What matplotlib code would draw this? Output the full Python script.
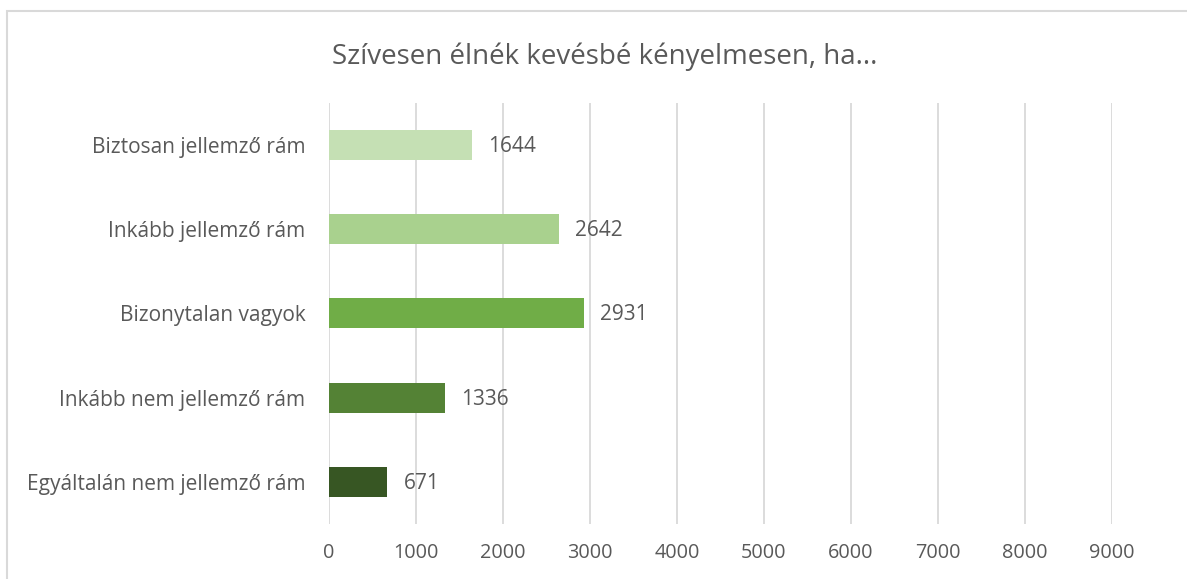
import matplotlib.pyplot as plt
from matplotlib.patches import Rectangle

categories = ['Egyáltalán nem jellemző rám', 'Inkább nem jellemző rám', 'Bizonytalan vagyok',
              'Inkább jellemző rám', 'Biztosan jellemző rám']
values = [671, 1336, 2931, 2642, 1644]
colors = ['#375623', '#548235', '#70AD47', '#A9D18E', '#C5E0B4']
ticks = [0, 1000, 2000, 3000, 4000, 5000, 6000, 7000, 8000, 9000]
title = 'Szívesen élnék kevésbé kényelmesen, ha...'

plt.rcParams['font.family'] = ['Open Sans', 'DejaVu Sans']
txt = '#595959'

fig = plt.figure(figsize=(11.87, 5.79), dpi=100)
W, H = 1187, 579
fig.add_artist(Rectangle((7/W, -0.1), 1.1, 1 - 11/H + 0.1, transform=fig.transFigure,
                         facecolor='white', edgecolor='#D9D9D9', lw=1.5, zorder=-10))

ax = fig.add_axes([329/W, 1 - 524/H, (1112 - 329)/W, (524 - 102.5)/H])
ax.set_facecolor('none')
y = range(len(categories))
ax.barh(y, values, height=0.355, color=colors, zorder=3)
for i, v in enumerate(values):
    ax.text(v + 185, i - 0.02, str(v), va='center', ha='left', fontsize=15, color=txt)

ax.set_xlim(0, 9000)
ax.set_ylim(-0.5, len(categories) - 0.5)
ax.set_xticks(ticks)
ax.set_yticks(list(y))
ax.set_yticklabels(categories)
ax.tick_params(axis='y', length=0, labelsize=15, labelcolor=txt, pad=17)
ax.tick_params(axis='x', length=0, labelsize=14.3, labelcolor=txt, pad=14)
ax.grid(axis='x', color='#D9D9D9', lw=1.3, zorder=0)
for s in ax.spines.values():
    s.set_visible(False)

fig.text(605/W, 1 - 57/H, title, ha='center', va='center', fontsize=20, color=txt)

fig.savefig('out.png', dpi=100)
